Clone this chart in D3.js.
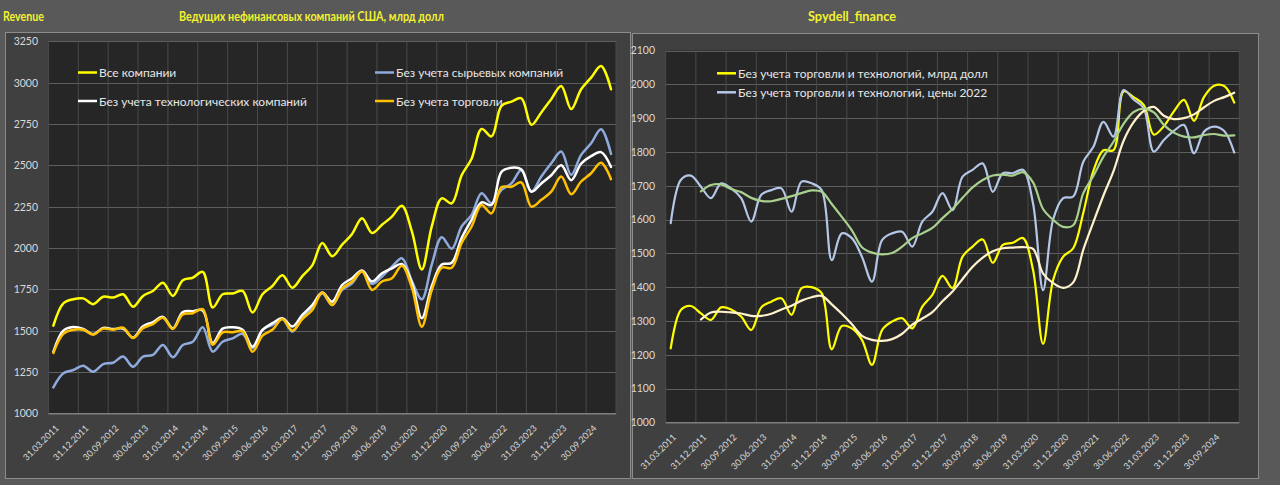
<!DOCTYPE html>
<html><head><meta charset="utf-8">
<script src="https://cdn.jsdelivr.net/npm/d3@7"></script>
<style>
html,body{margin:0;padding:0;background:#595959;}
svg{display:block;font-family:Lato,"Open Sans",sans-serif;}
</style></head>
<body>
<svg id="c" width="1280" height="485"></svg>
<script>
// ---------- DATA ----------
const categories = [
"31.03.2011","30.06.2011","30.09.2011","31.12.2011","31.03.2012","30.06.2012","30.09.2012","31.12.2012",
"31.03.2013","30.06.2013","30.09.2013","31.12.2013","31.03.2014","30.06.2014","30.09.2014","31.12.2014",
"31.03.2015","30.06.2015","30.09.2015","31.12.2015","31.03.2016","30.06.2016","30.09.2016","31.12.2016",
"31.03.2017","30.06.2017","30.09.2017","31.12.2017","31.03.2018","30.06.2018","30.09.2018","31.12.2018",
"31.03.2019","30.06.2019","30.09.2019","31.12.2019","31.03.2020","30.06.2020","30.09.2020","31.12.2020",
"31.03.2021","30.06.2021","30.09.2021","31.12.2021","31.03.2022","30.06.2022","30.09.2022","31.12.2022",
"31.03.2023","30.06.2023","30.09.2023","31.12.2023","31.03.2024","30.06.2024","30.09.2024","31.12.2024",
"31.03.2025"];

// Left chart series (billion USD)
const allCompanies = [1530,1665,1690,1695,1660,1705,1700,1720,1645,1710,1740,1790,1710,1805,1820,1855,
1640,1720,1725,1740,1610,1720,1770,1835,1760,1830,1895,2030,1950,2020,2085,2180,2090,2140,2190,2255,
2100,1870,2130,2300,2270,2440,2540,2720,2675,2860,2885,2905,2745,2820,2900,2980,2840,2960,3030,3100,2960];
const exRaw = [1157,1242,1262,1288,1252,1298,1306,1343,1282,1343,1353,1413,1339,1413,1433,1520,
1373,1433,1453,1480,1393,1504,1535,1570,1494,1580,1640,1725,1655,1746,1786,1857,1782,1827,1887,1938,
1800,1690,1900,2065,1995,2130,2200,2331,2270,2351,2391,2472,2341,2432,2512,2583,2442,2563,2633,2718,2569];
const exTech = [1373,1500,1522,1510,1478,1516,1510,1512,1458,1526,1552,1583,1514,1612,1618,1622,
1425,1512,1520,1505,1403,1504,1545,1575,1525,1595,1655,1730,1675,1776,1817,1863,1797,1847,1877,1903,
1790,1575,1770,1900,1910,2060,2170,2275,2260,2460,2485,2475,2340,2390,2440,2500,2410,2510,2555,2580,2490];
const exTrade = [1365,1480,1505,1505,1476,1512,1505,1518,1455,1515,1540,1578,1510,1598,1605,1630,
1415,1490,1490,1495,1372,1470,1505,1570,1500,1570,1625,1730,1655,1756,1797,1857,1746,1797,1817,1893,
1760,1524,1745,1880,1880,2030,2130,2260,2209,2368,2370,2396,2250,2291,2341,2432,2325,2402,2452,2516,2416];

// Right chart series
const nominal = [1219,1332,1344,1322,1303,1340,1334,1313,1273,1340,1357,1367,1318,1397,1400,1382,
1216,1285,1278,1244,1170,1273,1298,1308,1278,1342,1377,1433,1397,1490,1520,1541,1472,1525,1531,1545,
1451,1232,1421,1490,1515,1620,1744,1805,1805,1979,1962,1939,1851,1876,1920,1954,1892,1963,1996,1995,1946];
const real2022 = [1589,1717,1730,1697,1663,1707,1692,1663,1594,1673,1687,1692,1623,1712,1707,1687,
1480,1559,1545,1490,1416,1539,1559,1564,1520,1594,1623,1678,1628,1727,1747,1766,1682,1737,1737,1747,
1648,1391,1600,1663,1668,1771,1815,1889,1845,1983,1955,1929,1801,1835,1862,1880,1796,1860,1875,1862,1798];
const nominalTrend = [null,null,null,1304,1325,1327,1325,1322,1315,1315,1321,1334,1345,1360,1370,1374,
1349,1321,1290,1256,1244,1241,1246,1262,1289,1307,1326,1358,1387,1424,1460,1487,1506,1515,1517,1518,
1513,1440,1412,1398,1414,1511,1592,1671,1743,1833,1888,1921,1933,1907,1897,1900,1911,1932,1951,1962,1975];
const realTrend = [null,null,null,1683,1702,1704,1690,1681,1664,1655,1654,1661,1669,1678,1686,1682,
1646,1608,1568,1518,1502,1497,1501,1520,1545,1559,1575,1604,1631,1664,1695,1717,1730,1733,1730,1740,
1710,1631,1599,1578,1583,1678,1729,1786,1830,1883,1918,1928,1917,1880,1857,1845,1843,1850,1853,1848,1849];

const leftTicks = [1000,1250,1500,1750,2000,2250,2500,2750,3000,3250];
const rightTicks = [1000,1100,1200,1300,1400,1500,1600,1700,1800,1900,2000,2100];

const leftSeries = [
  {name:"Все компании", values:allCompanies, color:"#ffff00"},
  {name:"Без учета сырьевых компаний", values:exRaw, color:"#8faadc"},
  {name:"Без учета технологических компаний", values:exTech, color:"#ffffff"},
  {name:"Без учета торговли", values:exTrade, color:"#ffc000"}
];
const rightSeries = [
  {name:"Без учета торговли и технологий, млрд долл", values:nominal, color:"#ffff00"},
  {name:"Без учета торговли и технологий, цены 2022", values:real2022, color:"#b4c7e7"},
  {name:"trend1", values:nominalTrend, color:"#fff2cc"},
  {name:"trend2", values:realTrend, color:"#a9d18e"}
];

// ---------- DRAW ----------
const svg = d3.select("#c");
svg.append("rect").attr("width",1280).attr("height",485).attr("fill","#595959");

function panel(x,y,w,h){
  svg.append("rect").attr("x",x+0.5).attr("y",y+0.5).attr("width",w).attr("height",h)
    .attr("fill","#404040").attr("stroke","#8c8c8c").attr("stroke-width",1);
}

function chart(cfg){
  const g = svg.append("g");
  const x = d3.scalePoint().domain(categories).range([cfg.x0,cfg.x1]).padding(0.5);
  const step = x.step();
  const y = d3.scaleLinear().domain(cfg.domain).range([cfg.y1,cfg.y0]);
  g.append("rect").attr("x",cfg.x0).attr("y",cfg.y0).attr("width",cfg.x1-cfg.x0).attr("height",cfg.y1-cfg.y0)
    .attr("fill","#262626");
  g.selectAll(".hg").data(cfg.ticks.slice(1)).join("line")
    .attr("x1",cfg.x0).attr("x2",cfg.x1).attr("y1",d=>Math.round(y(d))+0.5).attr("y2",d=>Math.round(y(d))+0.5)
    .attr("stroke","#5e5e5e").attr("stroke-width",1);
  const vk = d3.range(0,categories.length+1,3);
  g.selectAll(".vg").data(vk).join("line")
    .attr("x1",k=>cfg.x0+k*step).attr("x2",k=>cfg.x0+k*step)
    .attr("y1",cfg.y0).attr("y2",cfg.y1)
    .attr("stroke","#4a4a4a").attr("stroke-width",1);
  g.append("line").attr("x1",cfg.x0).attr("x2",cfg.x1).attr("y1",cfg.y1+0.5).attr("y2",cfg.y1+0.5)
    .attr("stroke","#7f7f7f").attr("stroke-width",1.5);
  const yAxis = d3.axisLeft(y).tickValues(cfg.ticks).tickSize(0).tickPadding(0).tickFormat(d3.format("d"));
  const ya = g.append("g").attr("transform",`translate(${cfg.ylabX},0)`).call(yAxis);
  ya.select(".domain").remove();
  ya.selectAll("text").attr("fill","#d9d9d9").attr("font-size",10.5).attr("font-family","Lato");
  const labeled = categories.filter((c,i)=>i%3===0);
  const xAxis = d3.axisBottom(x).tickValues(labeled).tickSize(0).tickPadding(0);
  const xa = g.append("g").attr("transform",`translate(0,${cfg.y1})`).call(xAxis);
  xa.select(".domain").remove();
  xa.selectAll("text").attr("fill","#d9d9d9").attr("font-size",9).attr("font-family","Lato")
    .attr("text-anchor","end").attr("dy",null).attr("y",0)
    .attr("dominant-baseline","central")
    .attr("transform","translate(3,13) rotate(-45)");
  const line = d3.line().defined(d=>d.v!=null).x(d=>x(d.c)).y(d=>y(d.v)).curve(d3.curveCatmullRom.alpha(0.5));
  cfg.series.forEach(s=>{
    const pts = categories.map((c,i)=>({c:c,v:s.values[i]}));
    g.append("path").attr("d",line(pts)).attr("fill","none").attr("stroke",s.color)
      .attr("stroke-width",cfg.lw).attr("stroke-linejoin","round").attr("stroke-linecap","round");
  });
  cfg.legend.forEach(L=>{
    g.append("line").attr("x1",L.x).attr("x2",L.x+19).attr("y1",L.y).attr("y2",L.y)
      .attr("stroke",L.color).attr("stroke-width",2.5);
    g.append("text").attr("x",L.x+21).attr("y",L.y).attr("dominant-baseline","central")
      .attr("fill","#e6e6e6").attr("font-size",12).attr("font-family","Lato").text(L.name);
  });
}

panel(5,32,625,446);
panel(632,33,626,445);

chart({x0:48.4,x1:616,y0:41.3,y1:413.3,domain:[1000,3250],ticks:leftTicks,ylabX:38,series:leftSeries,lw:2.5,
  legend:[
    {name:leftSeries[0].name,color:leftSeries[0].color,x:78,y:72.5},
    {name:leftSeries[2].name,color:leftSeries[2].color,x:78,y:101},
    {name:leftSeries[1].name,color:leftSeries[1].color,x:375,y:72.5},
    {name:leftSeries[3].name,color:leftSeries[3].color,x:375,y:101}
  ]});
chart({x0:665.7,x1:1239.3,y0:50.5,y1:422.3,domain:[1000,2100],ticks:rightTicks,ylabX:655,series:rightSeries,lw:2.2,
  legend:[
    {name:rightSeries[0].name,color:rightSeries[0].color,x:717,y:73.3},
    {name:rightSeries[1].name,color:rightSeries[1].color,x:717,y:92.3}
  ]});

function title(txt,x,y,size,len){
  svg.append("text").attr("x",x).attr("y",y).attr("fill","#f2f230").attr("font-weight","bold")
    .attr("font-size",size).attr("font-family","Lato").attr("dominant-baseline","central")
    .attr("textLength",len).attr("lengthAdjust","spacingAndGlyphs").text(txt);
}
title("Revenue",3,16,13,41);
title("Ведущих нефинансовых компаний США, млрд долл",179,16,13,265);
title("Spydell_finance",808,16,13.5,88);
</script>
</body></html>
